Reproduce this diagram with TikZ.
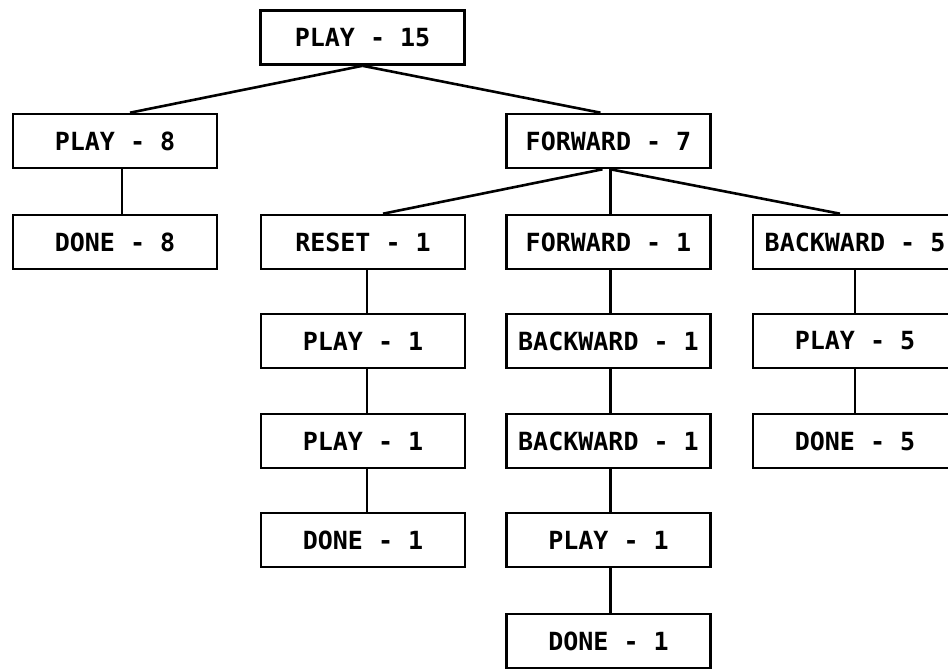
\documentclass[tikz,border=0pt]{standalone}
\usepackage{fontspec}
\setmonofont{DejaVu Sans Mono}
\begin{document}
\begin{tikzpicture}[x=1pt,y=-1pt,
  box/.style={draw, line width=2.6pt, minimum width=204pt, minimum height=54pt, inner sep=0pt,
    font=\ttfamily\bfseries\fontsize{25}{25}\selectfont},
  link/.style={line width=2.6pt}]
\fill[white] (0,0) rectangle (948,669);
\useasboundingbox (0,0) rectangle (948,669);
% row 0
\node[box] (root) at (362.5,37.5) {PLAY - 15};
% row 1
\node[box] (play8) at (115,141) {PLAY - 8};
\node[box] (fwd7) at (608.5,141) {FORWARD - 7};
% row 2
\node[box] (done8) at (115,242) {DONE - 8};
\node[box] (reset1) at (363,242) {RESET - 1};
\node[box] (fwd1) at (608.5,242) {FORWARD - 1};
\node[box] (back5) at (855,242) {BACKWARD - 5};
% row 3
\node[box] (playB3) at (363,341) {PLAY - 1};
\node[box] (backC3) at (608.5,341) {BACKWARD - 1};
\node[box] (play5) at (855,341) {PLAY - 5};
% row 4
\node[box] (playB4) at (363,441) {PLAY - 1};
\node[box] (backC4) at (608.5,441) {BACKWARD - 1};
\node[box] (done5) at (855,441) {DONE - 5};
% row 5
\node[box] (doneB5) at (363,540) {DONE - 1};
\node[box] (playC5) at (608.5,540) {PLAY - 1};
% row 6
\node[box] (doneC6) at (608.5,641) {DONE - 1};
% connectors
\draw[link] (root.south) -- ([xshift=15pt]play8.north);
\draw[link] (root.south) -- ([xshift=-8pt]fwd7.north);
\draw[link] ([xshift=7pt]play8.south) -- ([xshift=7pt]done8.north);
\draw[link] ([xshift=-6pt]fwd7.south) -- ([xshift=20pt]reset1.north);
\draw[link] ([xshift=2pt]fwd7.south) -- ([xshift=2pt]fwd1.north);
\draw[link] ([xshift=2pt]fwd7.south) -- ([xshift=-15pt]back5.north);
\draw[link] ([xshift=4pt]reset1.south) -- ([xshift=4pt]playB3.north);
\draw[link] ([xshift=4pt]playB3.south) -- ([xshift=4pt]playB4.north);
\draw[link] ([xshift=4pt]playB4.south) -- ([xshift=4pt]doneB5.north);
\draw[link] ([xshift=2pt]fwd1.south) -- ([xshift=2pt]backC3.north);
\draw[link] ([xshift=2pt]backC3.south) -- ([xshift=2pt]backC4.north);
\draw[link] ([xshift=2pt]backC4.south) -- ([xshift=2pt]playC5.north);
\draw[link] ([xshift=2pt]playC5.south) -- ([xshift=2pt]doneC6.north);
\draw[link] (back5.south) -- (play5.north);
\draw[link] (play5.south) -- (done5.north);
\end{tikzpicture}
\end{document}
